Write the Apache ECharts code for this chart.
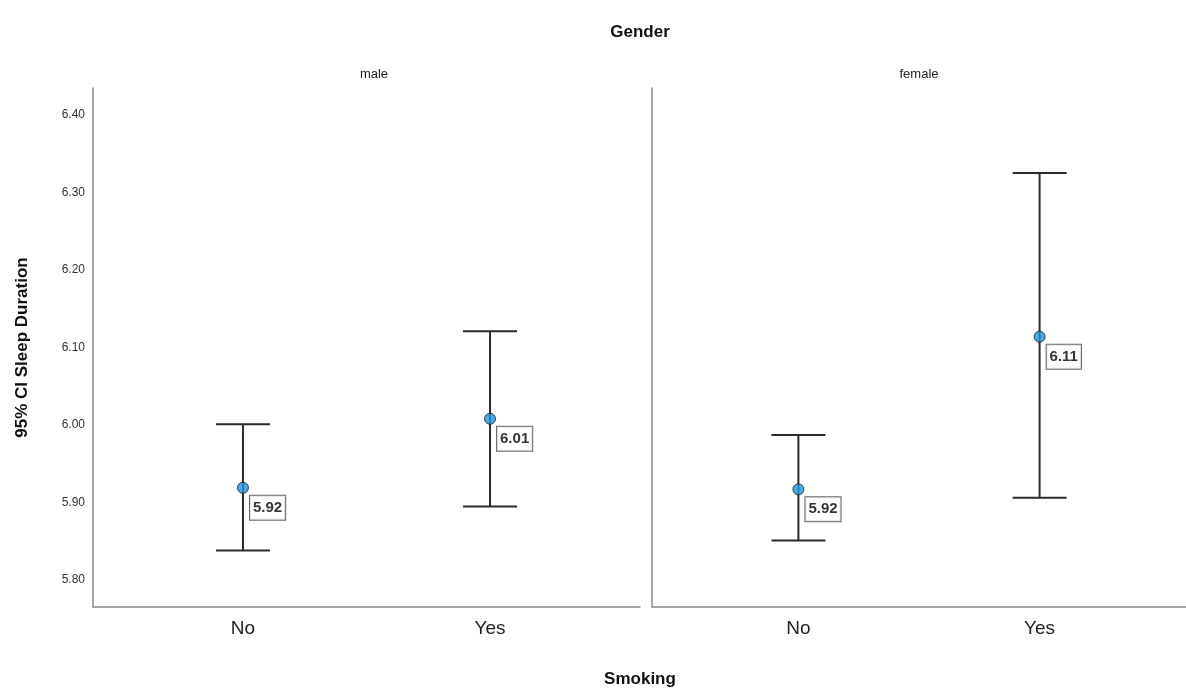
<!DOCTYPE html>
<html>
<head>
<meta charset="utf-8">
<script src="https://cdn.jsdelivr.net/npm/echarts@6/dist/echarts.min.js"></script>
<style>
  html, body { margin: 0; padding: 0; background: #fff; }
  #chart { width: 1186px; height: 688px; }
</style>
</head>
<body>
<div id="chart"></div>
<script>
// smoking groups on the x axis, one panel per gender
var categories = ['No', 'Yes'];
var panels = ['male', 'female'];

var maleMean = [5.919, 6.008];
var maleLow = [5.838, 5.895];
var maleHigh = [6.001, 6.121];

var femaleMean = [5.917, 6.114];
var femaleLow = [5.851, 5.906];
var femaleHigh = [5.987, 6.325];

var yTicks = [5.80, 5.90, 6.00, 6.10, 6.20, 6.30, 6.40];

var FONT = 'Liberation Sans, Arial, sans-serif';

function errorBars(idx, low, high) {
    var data = categories.map(function (c, i) { return [i, low[i], high[i]]; });
    return {
        type: 'custom',
        xAxisIndex: idx,
        yAxisIndex: idx,
        silent: true,
        z: 2,
        renderItem: function (params, api) {
            var x = api.value(0);
            var top = api.coord([x, api.value(2)]);
            var bot = api.coord([x, api.value(1)]);
            var w = 27;
            var style = { stroke: '#2b2b2b', lineWidth: 2 };
            return {
                type: 'group',
                children: [
                    { type: 'line', shape: { x1: top[0], y1: top[1], x2: bot[0], y2: bot[1] }, style: style },
                    { type: 'line', shape: { x1: top[0] - w, y1: top[1], x2: top[0] + w, y2: top[1] }, style: style },
                    { type: 'line', shape: { x1: bot[0] - w, y1: bot[1], x2: bot[0] + w, y2: bot[1] }, style: style }
                ]
            };
        },
        data: data
    };
}

function means(idx, mean) {
    return {
        type: 'scatter',
        xAxisIndex: idx,
        yAxisIndex: idx,
        z: 5,
        symbolSize: 11,
        itemStyle: { color: '#1e94dc', borderColor: '#1a1a1a', borderWidth: 1 },
        label: {
            show: true,
            position: 'right',
            distance: 1,
            offset: [0, 20],
            formatter: function (p) { return p.value[1].toFixed(2); },
            fontFamily: FONT,
            fontWeight: 'bold',
            fontSize: 15,
            color: '#000',
            backgroundColor: '#fff',
            borderColor: '#444',
            borderWidth: 1,
            padding: [5, 3, 4, 3]
        },
        data: categories.map(function (c, i) { return [i, mean[i]]; })
    };
}

function xAxis(idx) {
    return {
        type: 'value',
        gridIndex: idx,
        min: -0.607,
        max: 1.607,
        splitLine: { show: false },
        axisTick: { show: false },
        axisLine: { show: true, onZero: false, lineStyle: { color: '#8a8a8a', width: 1.5 } },
        axisLabel: {
            customValues: [0, 1],
            formatter: function (v) { return categories[Math.round(v)]; },
            fontFamily: FONT,
            fontSize: 19,
            color: '#222',
            margin: 12
        }
    };
}

function yAxis(idx) {
    return {
        type: 'value',
        gridIndex: idx,
        min: 5.7652,
        max: 6.4348,
        splitLine: { show: false },
        axisTick: { show: false },
        axisLine: { show: true, onZero: false, lineStyle: { color: '#8a8a8a', width: 1.5 } },
        axisLabel: {
            show: idx === 0,
            customValues: yTicks,
            formatter: function (v) { return v.toFixed(2); },
            fontFamily: FONT,
            fontSize: 12,
            color: '#333',
            margin: 8
        },
        name: idx === 0 ? '95% CI Sleep Duration' : '',
        nameLocation: 'middle',
        nameGap: 62,
        nameTextStyle: { fontFamily: FONT, fontWeight: 'bold', fontSize: 17, color: '#111' }
    };
}

var titleStyle = { fontFamily: FONT, fontWeight: 'bold', fontSize: 17, color: '#111' };
var panelStyle = { fontFamily: FONT, fontWeight: 'normal', fontSize: 13, color: '#222' };

var option = {
    backgroundColor: '#fff',
    animation: false,
    title: [
        { text: 'Gender', left: 635, top: 19, textAlign: 'center', textStyle: titleStyle },
        { text: panels[0], left: 369, top: 63, textAlign: 'center', textStyle: panelStyle },
        { text: panels[1], left: 914, top: 63, textAlign: 'center', textStyle: panelStyle },
        { text: 'Smoking', left: 635, top: 666, textAlign: 'center', textStyle: titleStyle }
    ],
    grid: [
        { left: 93, top: 88, width: 547, height: 519 },
        { left: 652, top: 88, width: 547, height: 519 }
    ],
    xAxis: [xAxis(0), xAxis(1)],
    yAxis: [yAxis(0), yAxis(1)],
    series: [
        errorBars(0, maleLow, maleHigh),
        means(0, maleMean),
        errorBars(1, femaleLow, femaleHigh),
        means(1, femaleMean)
    ]
};

var chart = echarts.init(document.getElementById('chart'));
chart.setOption(option);
window.onresize = chart.resize;
</script>
</body>
</html>
